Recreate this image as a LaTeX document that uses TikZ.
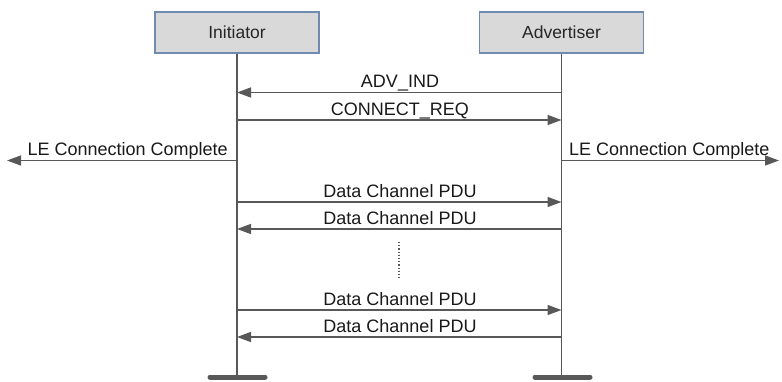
\documentclass[tikz,border=0pt]{standalone}
\usepackage{fontspec}
\setmainfont{Liberation Sans}
\usetikzlibrary{arrows.meta}
\definecolor{linegray}{HTML}{585858}
\definecolor{boxfill}{HTML}{D9D9D9}
\definecolor{boxedge}{HTML}{6F8CB0}
\tikzset{
  x=1pt, y=-1pt,
  entity/.style={draw=boxedge, line width=1.2pt, fill=boxfill, minimum width=164pt,
    minimum height=41pt, inner sep=0pt, font=\fontsize{17.5}{20}\selectfont, text=black!85},
  lifeline/.style={draw=linegray, line width=1.4pt},
  msg/.style={draw=linegray, line width=1.4pt, -{Triangle[length=14pt, width=10pt]}},
  lbl/.style={font=\fontsize{18}{20}\selectfont, text=black!90, inner sep=0pt},
  groundbar/.style={draw=linegray, line width=5pt, line cap=round}
}
\begin{document}
\begin{tikzpicture}
\useasboundingbox (0,0) rectangle (782,381);

% participants
\node[entity] (ini) at (237,32.5) {Initiator};
\node[entity] (adv) at (561.5,32.5) {Advertiser};

% lifeline end points and ground bars
\coordinate (iniend) at (237,377);
\coordinate (advend) at (561.5,377);
\coordinate (inibarL) at (210,377);
\coordinate (inibarR) at (265,377);
\coordinate (advbarL) at (535,377);
\coordinate (advbarR) at (590,377);

\draw[lifeline] (ini.south) -- (iniend);
\draw[lifeline] (adv.south) -- (advend);
\draw[groundbar] (inibarL) -- (inibarR);
\draw[groundbar] (advbarL) -- (advbarR);

% message anchor points on the lifelines
\foreach \n/\y in {a/92.5, b/120, c/160.5, d/202, e/229, f/310, g/337} {
  \coordinate (i\n) at (237,\y);
  \coordinate (r\n) at (561.5,\y);
}
\coordinate (hostL) at (7,160.5);
\coordinate (hostR) at (779,160.5);

% advertising and connection setup
\draw[msg] (ra) -- (ia);
\draw[msg] (ib) -- (rb);
\node[lbl, anchor=base] (lADV) at (400,87.5) {ADV\_IND};
\node[lbl, anchor=base] (lREQ) at (400,115) {CONNECT\_REQ};

% host notifications
\draw[msg] (ic) -- (hostL);
\draw[msg] (rc) -- (hostR);
\node[lbl, anchor=base east] (lLEi) at (228,155) {LE Connection Complete};
\node[lbl, anchor=base west] (lLEr) at (569,155) {LE Connection Complete};

% data exchange
\draw[msg] (id) -- (rd);
\draw[msg] (re) -- (ie);
\node[lbl, anchor=base] (lD1) at (400,197) {Data Channel PDU};
\node[lbl, anchor=base] (lD2) at (400,224) {Data Channel PDU};

% continuation
\coordinate (dotsT) at (399,242);
\coordinate (dotsB) at (399,280);
\draw[linegray, line width=1.2pt, dotted] (dotsT) -- (dotsB);

\draw[msg] (if) -- (rf);
\draw[msg] (rg) -- (ig);
\node[lbl, anchor=base] (lD3) at (400,305) {Data Channel PDU};
\node[lbl, anchor=base] (lD4) at (400,332) {Data Channel PDU};
\end{tikzpicture}
\end{document}
